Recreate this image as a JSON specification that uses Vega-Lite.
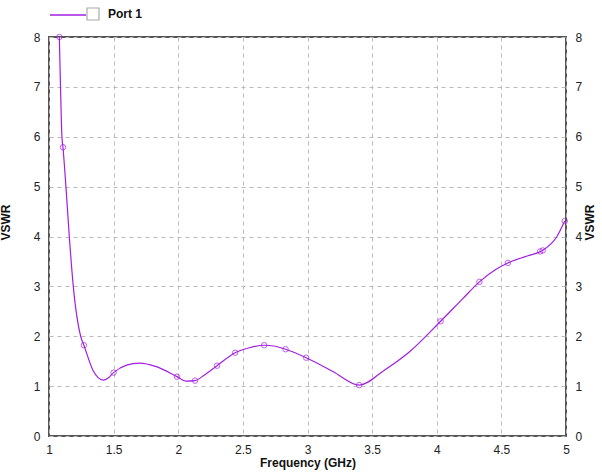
{
  "$schema": "https://vega.github.io/schema/vega-lite/v6.json",
  "autosize": {"type": "none"},
  "padding": {"left": 49, "top": 37, "right": 36, "bottom": 38},
  "width": 517,
  "height": 399,
  "background": "white",
  "config": {
    "view": {"stroke": "#555555", "strokeWidth": 2},
    "font": "Liberation Sans",
    "axis": {"labelFont": "Liberation Sans", "labelFontSize": 12, "labelColor": "#222", "titleFont": "Liberation Sans", "titleFontSize": 12, "titleFontWeight": "bold", "titleColor": "#111"}
  },
  "datasets": {
    "curve": [
      {"f": 1.08, "vswr": 8.0},
      {"f": 1.089, "vswr": 7.0},
      {"f": 1.10, "vswr": 6.0},
      {"f": 1.108, "vswr": 5.79},
      {"f": 1.131, "vswr": 5.0},
      {"f": 1.157, "vswr": 4.0},
      {"f": 1.188, "vswr": 3.0},
      {"f": 1.245, "vswr": 2.0},
      {"f": 1.27, "vswr": 1.82},
      {"f": 1.34, "vswr": 1.32},
      {"f": 1.38, "vswr": 1.17},
      {"f": 1.42, "vswr": 1.12},
      {"f": 1.46, "vswr": 1.17},
      {"f": 1.50, "vswr": 1.27},
      {"f": 1.60, "vswr": 1.42},
      {"f": 1.70, "vswr": 1.46},
      {"f": 1.83, "vswr": 1.39},
      {"f": 1.99, "vswr": 1.19},
      {"f": 2.06, "vswr": 1.10},
      {"f": 2.13, "vswr": 1.11},
      {"f": 2.20, "vswr": 1.22},
      {"f": 2.30, "vswr": 1.41},
      {"f": 2.44, "vswr": 1.67},
      {"f": 2.55, "vswr": 1.77},
      {"f": 2.665, "vswr": 1.82},
      {"f": 2.75, "vswr": 1.80},
      {"f": 2.83, "vswr": 1.74},
      {"f": 2.99, "vswr": 1.57},
      {"f": 3.20, "vswr": 1.29},
      {"f": 3.40, "vswr": 1.02},
      {"f": 3.60, "vswr": 1.33},
      {"f": 3.79, "vswr": 1.69},
      {"f": 4.03, "vswr": 2.30},
      {"f": 4.20, "vswr": 2.75},
      {"f": 4.33, "vswr": 3.09},
      {"f": 4.45, "vswr": 3.33},
      {"f": 4.55, "vswr": 3.47},
      {"f": 4.70, "vswr": 3.61},
      {"f": 4.81, "vswr": 3.71},
      {"f": 4.93, "vswr": 4.0},
      {"f": 4.99, "vswr": 4.31}
    ],
    "markers": [
      {"f": 1.08, "vswr": 8.0},
      {"f": 1.108, "vswr": 5.79},
      {"f": 1.27, "vswr": 1.82},
      {"f": 1.50, "vswr": 1.27},
      {"f": 1.99, "vswr": 1.19},
      {"f": 2.13, "vswr": 1.11},
      {"f": 2.30, "vswr": 1.41},
      {"f": 2.44, "vswr": 1.67},
      {"f": 2.665, "vswr": 1.82},
      {"f": 2.83, "vswr": 1.74},
      {"f": 2.99, "vswr": 1.57},
      {"f": 3.40, "vswr": 1.02},
      {"f": 4.03, "vswr": 2.30},
      {"f": 4.33, "vswr": 3.09},
      {"f": 4.55, "vswr": 3.47},
      {"f": 4.80, "vswr": 3.70},
      {"f": 4.82, "vswr": 3.72},
      {"f": 4.99, "vswr": 4.31}
    ]
  },
  "encoding": {
    "x": {
      "field": "f", "type": "quantitative",
      "scale": {"domain": [1, 5], "nice": false, "zero": false},
      "axis": {"title": "Frequency (GHz)", "values": [1, 1.5, 2, 2.5, 3, 3.5, 4, 4.5, 5], "format": "~g", "ticks": false, "domain": false, "labelPadding": 8, "titlePadding": 2, "grid": true, "gridDash": [4, 4], "gridColor": "#bbbbbb", "labelFlush": false}
    }
  },
  "layer": [
    {
      "data": {"name": "curve"},
      "mark": {"type": "line", "interpolate": "monotone", "strokeWidth": 1.2},
      "encoding": {
        "y": {
          "field": "vswr", "type": "quantitative",
          "scale": {"domain": [0, 8], "nice": false},
          "axis": {"title": "VSWR", "titleX": -37, "titleY": 185, "values": [0, 1, 2, 3, 4, 5, 6, 7, 8], "ticks": false, "domain": false, "labelPadding": 9, "grid": true, "gridDash": [4, 4], "gridColor": "#bbbbbb"}
        },
        "color": {
          "datum": "line",
          "scale": {"range": ["#a21fe0"]},
          "legend": {"orient": "none", "legendX": 0, "legendY": -41, "symbolType": "stroke", "symbolSize": 1296, "symbolStrokeWidth": 1.5, "labelExpr": "''", "title": null}
        }
      }
    },
    {
      "data": {"name": "markers"},
      "mark": {"type": "point", "shape": "circle", "filled": false, "color": "#a21fe0", "size": 30, "strokeWidth": 1},
      "encoding": {
        "y": {"field": "vswr", "type": "quantitative", "scale": {"domain": [0, 8], "nice": false}, "axis": null}
      }
    },
    {
      "data": {"name": "markers"},
      "mark": {"type": "point", "filled": false, "color": "#888888", "size": 0, "strokeWidth": 1.2},
      "encoding": {
        "shape": {
          "datum": "Port 1",
          "scale": {"range": ["square"]},
          "legend": {"orient": "none", "legendX": 37, "legendY": -30, "symbolType": "square", "symbolSize": 144, "symbolStrokeColor": "#888888", "symbolStrokeWidth": 1.2, "title": null, "labelFontSize": 12, "labelFontWeight": "bold", "labelColor": "#111", "labelOffset": 8}
        },
        "y": {
          "field": "vswr", "type": "quantitative",
          "scale": {"domain": [0, 8], "nice": false},
          "axis": {"orient": "right", "title": "VSWR", "titleAngle": 270, "titleX": 30, "titleY": 185, "values": [0, 1, 2, 3, 4, 5, 6, 7, 8], "ticks": false, "domain": false, "grid": false, "labelPadding": 9}
        }
      }
    }
  ],
  "resolve": {"scale": {"y": "independent"}, "axis": {"y": "independent"}}
}
